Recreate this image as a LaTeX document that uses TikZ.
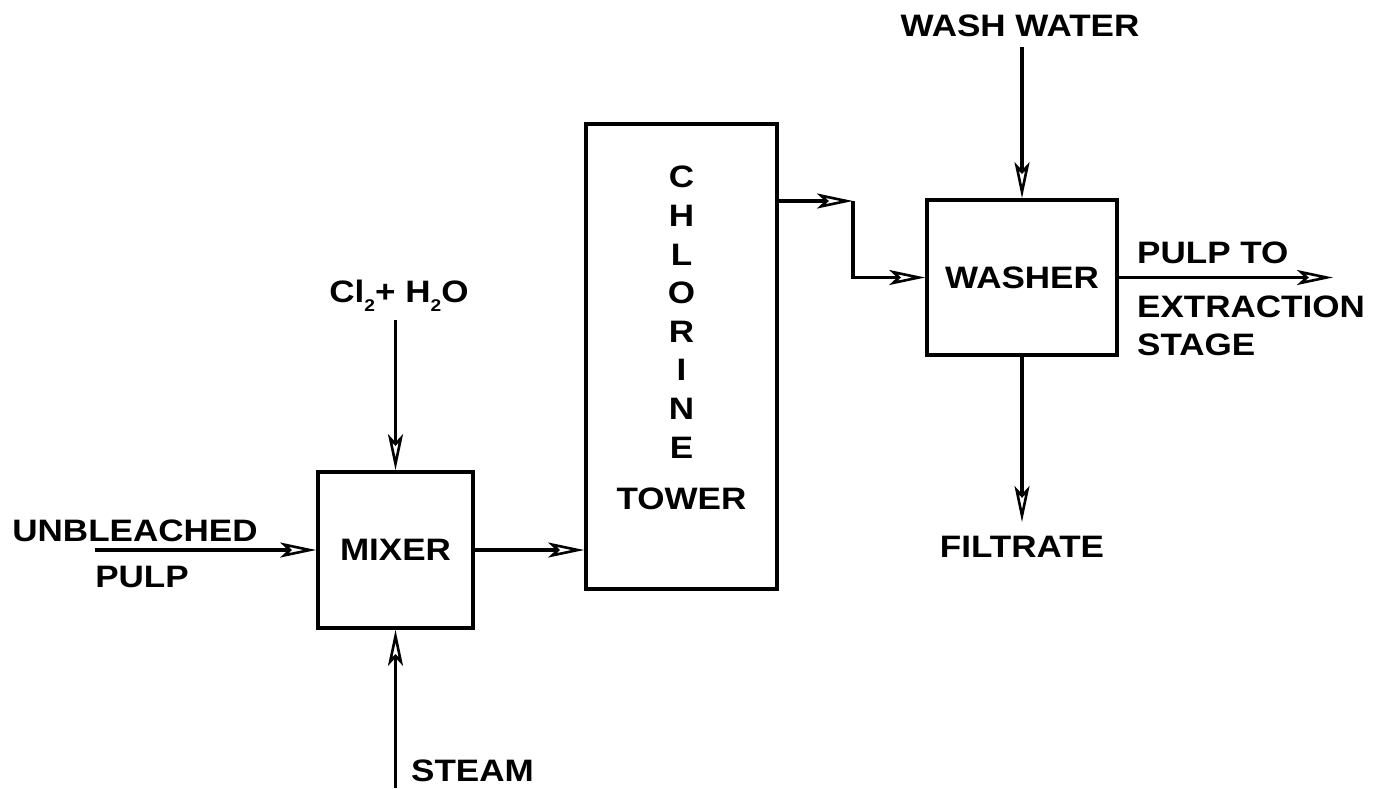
\documentclass[tikz,border=0pt]{standalone}
\usepackage{fontspec}
\setmainfont{Liberation Sans}[FakeStretch=1.13]
\usetikzlibrary{arrows.meta}
\newcommand{\chemsub}[1]{\raisebox{-9pt}{\fontsize{17}{17}\selectfont\bfseries #1}}
\begin{document}
\begin{tikzpicture}[x=1pt,y=-1pt,
  lbl/.style={inner sep=0pt, font=\fontsize{31}{37}\selectfont\bfseries},
  box/.style={draw, line width=3.6pt, inner sep=0pt, font=\fontsize{31}{37}\selectfont\bfseries},
  flow/.style={line width=3.2pt, -{Stealth[open,length=36pt,width=15pt,inset=8pt,line width=2.6pt]}}]
\useasboundingbox (0,0) rectangle (1391,788);
% units
\node[box, minimum width=155pt, minimum height=156pt] (mixer) at (395.5,550) {MIXER};
\node[box, minimum width=191pt, minimum height=465pt] (tower) at (681.5,356.5) {};
\node[box, minimum width=190pt, minimum height=155pt] (washer) at (1022,277.5) {WASHER};
% tower label
\node[lbl, anchor=north, align=center, font=\fontsize{31}{38.6}\selectfont\bfseries] (towerlbl) at (681.5,166)
  {C\\H\\L\\O\\R\\I\\N\\E\\[12.4pt]TOWER};
% unbleached pulp
\node[lbl, anchor=base] (unb) at (135,541) {UNBLEACHED};
\node[lbl, anchor=base] (pulp) at (142,587) {PULP};
\coordinate (unbin) at (95,550);
\draw[flow] (unbin) -- (mixer.west);
% Cl2 + H2O
\node[lbl, anchor=base] (cl) at (399,302) {Cl\chemsub{2}+ H\chemsub{2}O};
\coordinate (clin) at (395.5,320);
\draw[flow] (clin) -- (mixer.north);
% steam
\coordinate (stin) at (395.5,788);
\draw[flow] (stin) -- (mixer.south);
\node[lbl, anchor=base west] (steam) at (411,781) {STEAM};
% mixer to tower
\draw[flow] (mixer.east) -- (mixer.east -| tower.west);
% tower to washer
\coordinate (bend) at (853,201);
\draw[flow] (tower.east |- bend) -- (bend);
\draw[flow] (bend) |- (washer.west);
% wash water
\node[lbl, anchor=base] (ww) at (1020,36) {WASH WATER};
\coordinate (wwin) at (1022,47);
\draw[flow] (wwin) -- (washer.north);
% pulp out
\coordinate (pout) at (1333,277.5);
\draw[flow] (washer.east) -- (pout);
\node[lbl, anchor=base west] (pt) at (1137,263) {PULP TO};
\node[lbl, anchor=base west] (ex) at (1137,317) {EXTRACTION};
\node[lbl, anchor=base west] (st) at (1137,355) {STAGE};
% filtrate
\coordinate (fout) at (1022,522);
\draw[flow] (washer.south) -- (fout);
\node[lbl, anchor=base] (filt) at (1022,557) {FILTRATE};
\end{tikzpicture}
\end{document}
